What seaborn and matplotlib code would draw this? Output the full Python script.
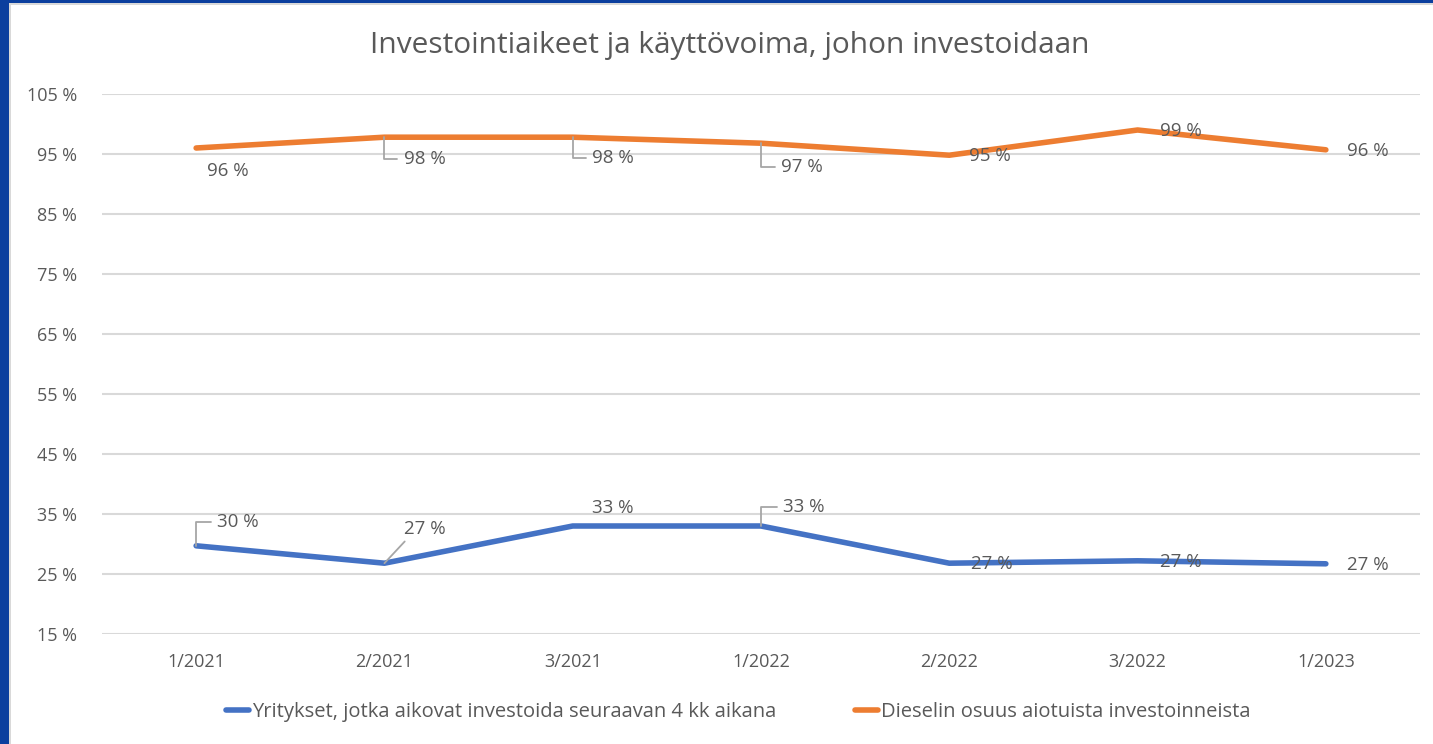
import matplotlib
matplotlib.use("Agg")
import matplotlib.pyplot as plt
from matplotlib.patches import Rectangle
import seaborn as sns
import pandas as pd

categories = ["1/2021", "2/2021", "3/2021", "1/2022", "2/2022", "3/2022", "1/2023"]
series_names = ["Yritykset, jotka aikovat investoida seuraavan 4 kk aikana",
                "Dieselin osuus aiotuista investoinneista"]
companies = [29.7, 26.8, 33.0, 33.0, 26.8, 27.2, 26.7]
diesel = [96.0, 97.8, 97.8, 96.8, 94.8, 99.0, 95.7]
companies_labels = ["30 %", "27 %", "33 %", "33 %", "27 %", "27 %", "27 %"]
diesel_labels = ["96 %", "98 %", "98 %", "97 %", "95 %", "99 %", "96 %"]
yticks = [15, 25, 35, 45, 55, 65, 75, 85, 95, 105]
title = "Investointiaikeet ja käyttövoima, johon investoidaan"

BLUE = "#4472C4"
ORANGE = "#ED7D31"
TXT = "#595959"
GRID = "#D9D9D9"

sns.set_theme(style="white")
plt.rcParams["font.family"] = ["Open Sans", "DejaVu Sans"]

df = pd.DataFrame({
    "cat": categories * 2,
    "value": companies + diesel,
    "series": [series_names[0]] * len(categories) + [series_names[1]] * len(categories),
})

fig = plt.figure(figsize=(14.33, 7.44), dpi=100)
fig.patch.set_facecolor("white")
ax = fig.add_axes([102 / 1433, 1 - 634 / 744, (1420 - 102) / 1433, (634 - 94) / 744])

sns.lineplot(data=df, x="cat", y="value", hue="series", sort=False,
             palette=[BLUE, ORANGE], linewidth=4.0, ax=ax, legend=False,
             solid_capstyle="round", solid_joinstyle="round")

ax.set_xlim(-0.5, len(categories) - 0.5)
ax.set_ylim(15, 105)
ax.set_yticks(yticks)
ax.set_yticklabels([f"{v} %" for v in yticks])
ax.set_xlabel("")
ax.set_ylabel("")
ax.grid(axis="y", color=GRID, linewidth=1.5)
ax.grid(axis="x", visible=False)
ax.set_axisbelow(True)
for s in ax.spines.values():
    s.set_visible(False)
ax.tick_params(axis="both", length=0, colors=TXT, labelsize=13)
ax.tick_params(axis="y", pad=18)
ax.tick_params(axis="x", pad=14)

fig.text(730 / 1433, 1 - 45 / 744, title, ha="center", va="center",
         fontsize=21.5, color=TXT)

# data labels: (offset x, offset y in pixels, leader style)
diesel_off = [(32, -23, None), (40, -22, "elbow"), (40, -21, "elbow"), (41, -24, "elbow"),
              (41, -1, None), (43, -1, None), (42, -1, None)]
comp_off = [(42, 24, "elbow"), (40, 34, "line"), (40, 18, None), (43, 19, "elbow"),
            (43, -1, None), (43, -1, None), (42, -1, None)]


def put_labels(vals, labels, offs):
    for i, (v, lab, (dx, dy, style)) in enumerate(zip(vals, labels, offs)):
        kw = dict(xy=(i, v), xytext=(dx, dy), textcoords="offset pixels",
                  ha="center", va="center", fontsize=13.5, color=TXT)
        if style == "elbow":
            kw["arrowprops"] = dict(arrowstyle="-", color="#A6A6A6", lw=1.3,
                                    shrinkA=2, shrinkB=0, relpos=(0, 0.5),
                                    connectionstyle="angle,angleA=0,angleB=90,rad=0")
        elif style == "line":
            kw["arrowprops"] = dict(arrowstyle="-", color="#A6A6A6", lw=1.3,
                                    shrinkA=0, shrinkB=0, relpos=(0.1, 0.0))
        ax.annotate(lab, **kw)


put_labels(diesel, diesel_labels, diesel_off)
put_labels(companies, companies_labels, comp_off)

handles = [plt.Line2D([], [], color=BLUE, lw=4.0, solid_capstyle="round"),
           plt.Line2D([], [], color=ORANGE, lw=4.0, solid_capstyle="round")]
leg = fig.legend(handles, series_names, loc="center", ncol=2, frameon=False,
                 bbox_to_anchor=(738 / 1433, 1 - 712 / 744), fontsize=14.5,
                 handlelength=1.15, handletextpad=0.15, columnspacing=3.9)
for t in leg.get_texts():
    t.set_color(TXT)

# frame
fig.add_artist(Rectangle((0, 0), 9 / 1433, 1, transform=fig.transFigure,
                         facecolor="#0B3F9E", edgecolor="none"))
fig.add_artist(Rectangle((0, 1 - 3 / 744), 1, 3 / 744, transform=fig.transFigure,
                         facecolor="#0B3F9E", edgecolor="none"))
fig.add_artist(Rectangle((9 / 1433, 0), 1.5 / 1433, 1 - 3 / 744, transform=fig.transFigure,
                         facecolor="#D9D9D9", edgecolor="none"))
fig.add_artist(Rectangle((9 / 1433, 1 - 5 / 744), 1, 2 / 744, transform=fig.transFigure,
                         facecolor="#D9D9D9", edgecolor="none"))

fig.savefig("out.png", dpi=100)
